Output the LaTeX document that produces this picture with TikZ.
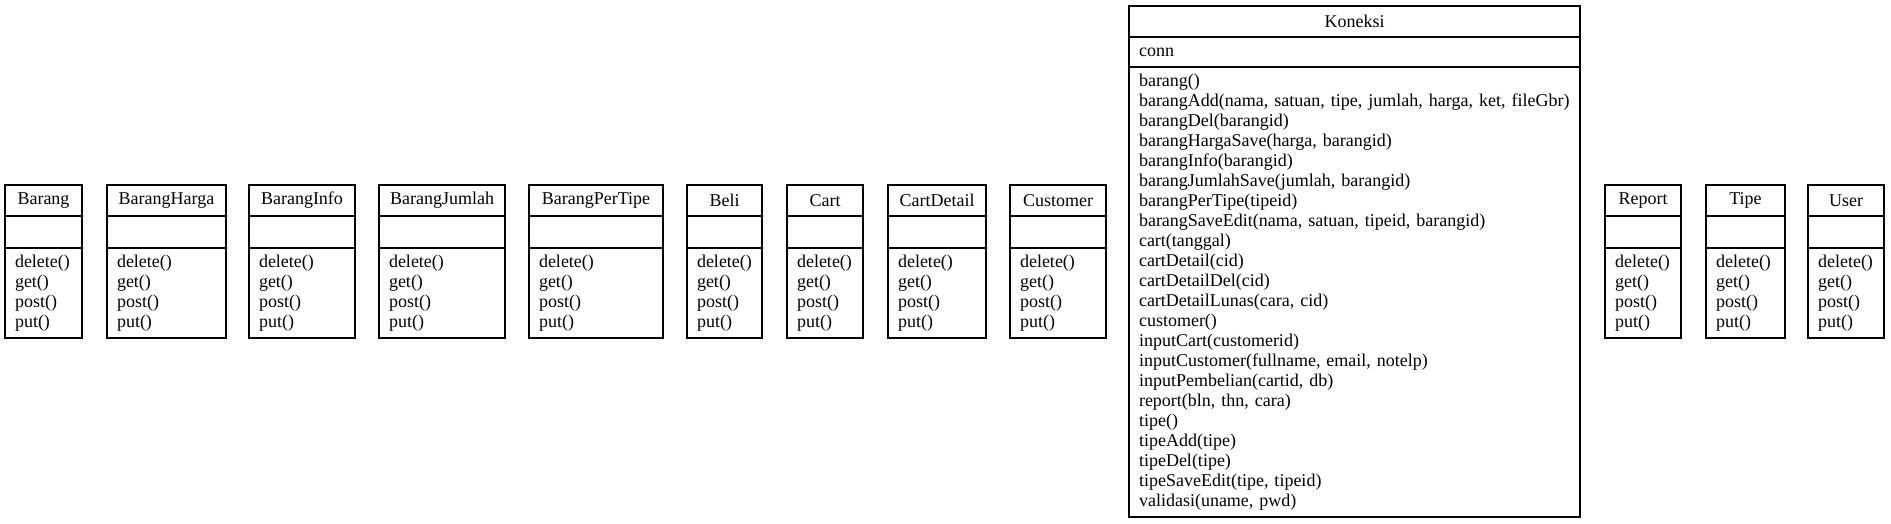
\documentclass[tikz,border=0pt]{standalone}
\usepackage{fontspec}
\setmainfont{Liberation Serif}
\usetikzlibrary{positioning}
\hyphenpenalty=10000
\tikzset{umlpart/.style={draw, line width=1.1pt, inner sep=0pt, outer sep=0pt,
      font=\fontsize{18}{20}\selectfont},
  classname/.style={umlpart, anchor=north west, minimum height=31pt},
  classattr/.style={umlpart, minimum height=#1, inner xsep=10pt, align=left},
  classops/.style={umlpart, minimum height=#1, inner xsep=10pt, align=left}}

\begin{document}
\begin{tikzpicture}[x=1pt, y=-1pt]
		\useasboundingbox (0,0) rectangle (1891,524);
		% resource classes, all with the same four methods
		\foreach \cls/\title/\xl/\w in {barang/Barang/5/77, barangharga/BarangHarga/107/119,
		    baranginfo/BarangInfo/249/106, barangjumlah/BarangJumlah/379/126,
		    barangpertipe/BarangPerTipe/529/134, beli/Beli/687/75, cart/Cart/787/76,
		    cartdetail/CartDetail/888/98, customer/Customer/1010/96,
		    report/Report/1605/76, tipe/Tipe/1706/79, user/User/1808/76}{
			\pgfmathsetmacro\tw{\w-20}
			\node[classname, minimum width=\w pt] (\cls-name) at (\xl,185) {\title};
			\node[classattr=32pt, minimum width=\w pt, below=0pt of \cls-name] (\cls-attr) {};
			\node[classops=90pt, text width=\tw pt, below=0pt of \cls-attr] (\cls-ops)
			  {delete()\\get()\\post()\\put()};
		}
		% database class
		\node[classname, minimum width=451pt] (koneksi-name) at (1129,6) {Koneksi};
		\node[classattr=30pt, text width=431pt, below=0pt of koneksi-name] (koneksi-attr) {conn};
		\node[classops=450pt, text width=431pt, below=0pt of koneksi-attr] (koneksi-ops)
		  {barang()\\
		   \mbox{barangAdd(nama, satuan, tipe, jumlah, harga, ket, fileGbr)}\\
		   barangDel(barangid)\\
		   barangHargaSave(harga, barangid)\\
		   barangInfo(barangid)\\
		   barangJumlahSave(jumlah, barangid)\\
		   barangPerTipe(tipeid)\\
		   barangSaveEdit(nama, satuan, tipeid, barangid)\\
		   cart(tanggal)\\
		   cartDetail(cid)\\
		   cartDetailDel(cid)\\
		   cartDetailLunas(cara, cid)\\
		   customer()\\
		   inputCart(customerid)\\
		   inputCustomer(fullname, email, notelp)\\
		   inputPembelian(cartid, db)\\
		   report(bln, thn, cara)\\
		   tipe()\\
		   tipeAdd(tipe)\\
		   tipeDel(tipe)\\
		   tipeSaveEdit(tipe, tipeid)\\
		   validasi(uname, pwd)};
\end{tikzpicture}
\end{document}
